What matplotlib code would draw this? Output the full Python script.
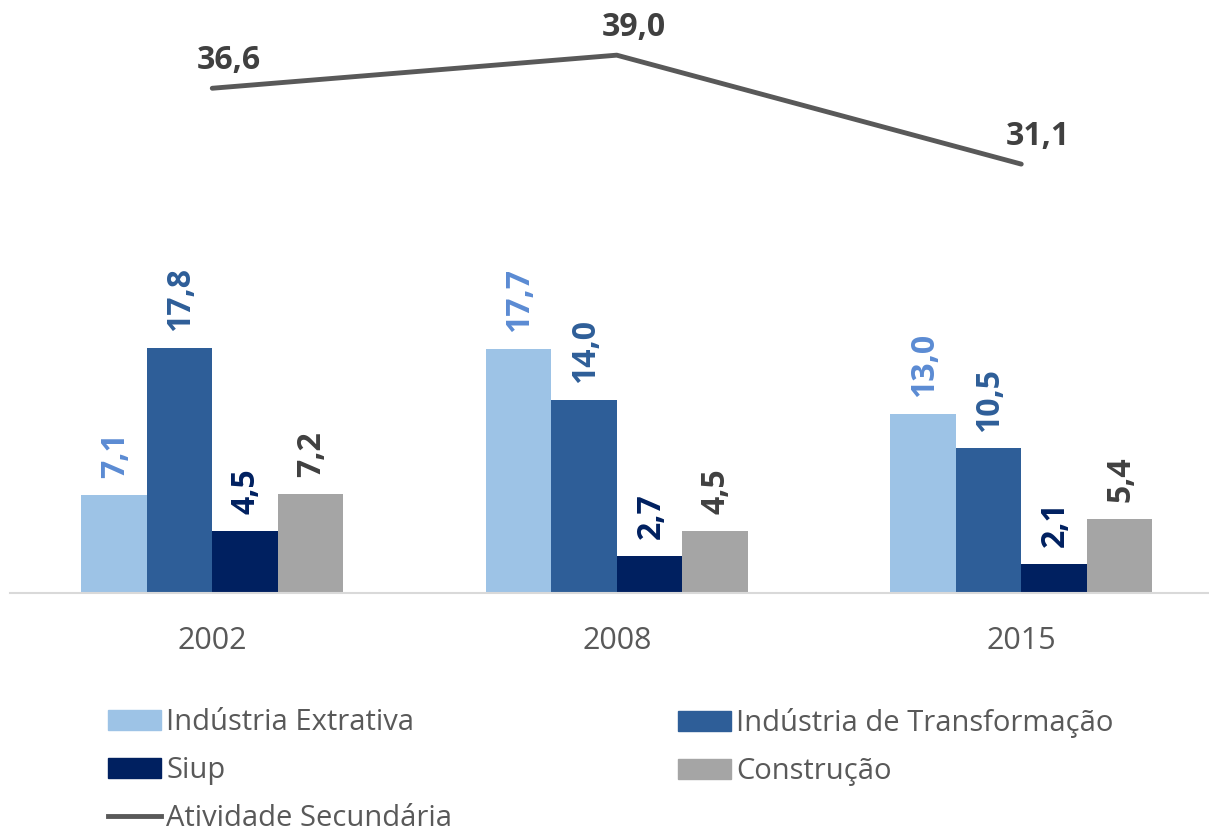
import numpy as np
import matplotlib
matplotlib.use('Agg')
import matplotlib.pyplot as plt
from matplotlib.lines import Line2D
from matplotlib.patches import Patch

# Data
years = ['2002', '2008', '2015']
series_names = ['Indústria Extrativa', 'Indústria de Transformação', 'Siup', 'Construção']
extrativa = [7.1, 17.7, 13.0]
transformacao = [17.8, 14.0, 10.5]
siup = [4.5, 2.7, 2.1]
construcao = [7.2, 4.5, 5.4]
secundaria = [36.6, 39.0, 31.1]
line_name = 'Atividade Secundária'

bar_colors = ['#9DC3E6', '#2E5E98', '#002060', '#A5A5A5']
label_colors = ['#5B8BD3', '#2E5E98', '#002060', '#404040']
line_color = '#595959'

plt.rcParams['font.family'] = ['Open Sans', 'DejaVu Sans']

W, H = 1209, 833
fig = plt.figure(figsize=(W / 100, H / 100), dpi=100)
# axes: baseline at y=593 px, group centers 212 / 617 / 1021 px
ax = fig.add_axes([10 / W, (H - 593) / H, 1213.5 / W, 593 / H])

x = np.arange(len(years))
width = 0.162
all_series = [extrativa, transformacao, siup, construcao]
for i, vals in enumerate(all_series):
    xs = x + (i - 1.5) * width
    ax.bar(xs, vals, width=width, color=bar_colors[i], zorder=2)
    for xi, v in zip(xs, vals):
        ax.annotate(f'{v:.1f}'.replace('.', ','), (xi, v), xytext=(1, 12),
                    textcoords='offset points', rotation=90, ha='center', va='bottom',
                    fontsize=23, fontweight='bold', color=label_colors[i])

ax.plot(x, secundaria, color=line_color, linewidth=3.5, solid_capstyle='round', zorder=3)
for xi, v in zip(x, secundaria):
    ax.annotate(f'{v:.1f}'.replace('.', ','), (xi, v), xytext=(12, 8),
                textcoords='offset points', ha='center', va='bottom',
                fontsize=23, fontweight='bold', color='#404040')

ax.set_xlim(-0.5, 2.5)
ax.set_ylim(0, 43)
ax.set_xticks(x)
ax.set_xticklabels(years, fontsize=22, color='#595959')
ax.tick_params(axis='x', length=0, pad=24)
ax.set_yticks([])
for s in ['top', 'right', 'left']:
    ax.spines[s].set_visible(False)
ax.spines['bottom'].set_color('#D9D9D9')
ax.spines['bottom'].set_linewidth(1.5)

# legend, two columns placed separately
h1 = [Patch(color=bar_colors[0]), Patch(color=bar_colors[2]),
      Line2D([], [], color=line_color, linewidth=3.5)]
l1 = [series_names[0], series_names[2], line_name]
h2 = [Patch(color=bar_colors[1]), Patch(color=bar_colors[3])]
l2 = [series_names[1], series_names[3]]
leg_kw = dict(loc='upper left', frameon=False, fontsize=21, handlelength=1.8,
              handletextpad=0.2, labelspacing=0.66, borderpad=0, borderaxespad=0,
              labelcolor='#595959')
fig.legend(h1, l1, bbox_to_anchor=(108 / W, 1 - 708 / H), **leg_kw)
fig.legend(h2, l2, bbox_to_anchor=(678 / W, 1 - 708 / H), **leg_kw)

fig.savefig('out.png', dpi=100)
